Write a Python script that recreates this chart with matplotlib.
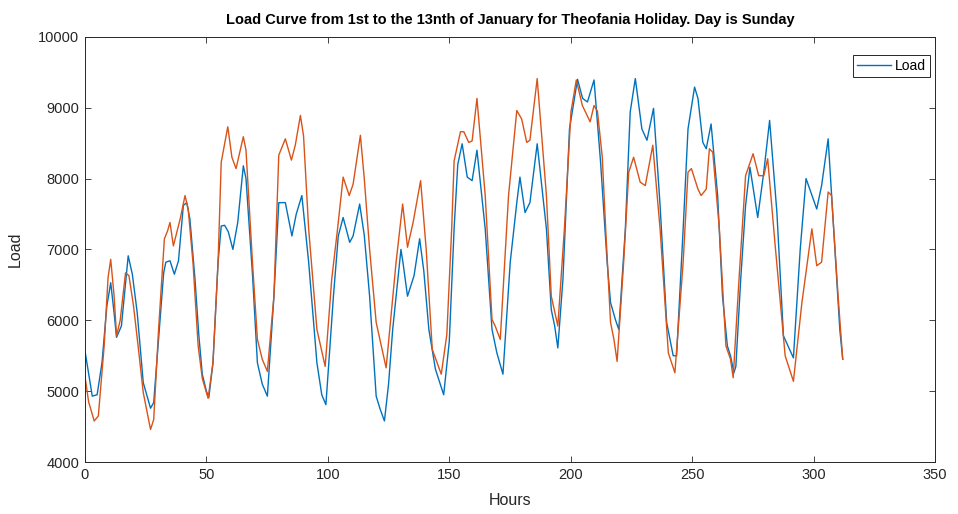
import numpy as np
import matplotlib
matplotlib.use('Agg')
import matplotlib.pyplot as plt

# values (hour, load)
blue_hours = [0, 1.5, 3, 5, 7, 9, 10.6, 12, 13, 15, 17.8, 19.5, 21.5, 24, 27, 28.3,
              30.3, 32.4, 33.3, 35, 36.8, 38.5, 40.5, 41.9, 43.2, 45.3, 46.9, 48.3, 50, 51,
              52.7, 54.8, 56.1, 57.5, 59, 60.9, 62.9, 65.2, 66.3, 69, 71, 73, 75.1, 77.8,
              79.8, 82.5, 85.2, 87, 89.3, 92.1, 95.5, 97.5, 99.2, 102.3, 104.3, 106.3, 109,
              110.4, 113.1, 115, 117.2, 119.9, 121.5, 123.3, 125, 126.7, 130.1, 131, 132.8,
              135.5, 137.8, 139.5, 141.6, 144.3, 147.7, 150, 152, 153.5, 155.3, 157.4,
              159.4, 161.4, 164.8, 167.6, 169.6, 172.1, 175.1, 177.8, 179.1, 181.2, 183.2,
              186.2, 190, 192, 193.4, 194.7, 196.8, 199.5, 202.8, 204.9, 206.9, 209.6,
              212.3, 215, 216.4, 218.4, 219.8, 222.5, 224.5, 226.6, 229.3, 231.4, 234.1,
              236.8, 239.5, 242.2, 243.6, 246.3, 248.3, 251, 252.4, 254.4, 255.8, 257.8,
              260.5, 262.5, 264.5, 265.8, 267.2, 268, 270, 272, 273.8, 277, 279.5, 281.9,
              284.9, 287.6, 291.7, 294.5, 296.9, 301.3, 303.3, 306, 308.7, 310.8, 312]
blue_load = [5570, 5250, 4930, 4950, 5400, 6200, 6530, 6100, 5760, 5920, 6910, 6650, 6110,
             5120, 4760, 4840, 5730, 6670, 6820, 6840, 6650, 6840, 7620, 7660, 7430, 6580,
             5780, 5240, 5000, 4910, 5400, 6820, 7330, 7340, 7250, 7000, 7380, 8180, 8000,
             6630, 5400, 5100, 4930, 6340, 7660, 7660, 7190, 7500, 7760, 6820, 5400, 4950,
             4810, 6340, 7190, 7450, 7100, 7190, 7640, 7200, 6340, 4930, 4750, 4580, 5100,
             5870, 7000, 6800, 6340, 6630, 7150, 6700, 5870, 5310, 4950, 5700, 7300, 8200,
             8490, 8020, 7970, 8400, 7290, 5870, 5540, 5240, 6820, 7660, 8020, 7520, 7660,
             8490, 7290, 6150, 5920, 5610, 6580, 8700, 9400, 9130, 9080, 9390, 8230, 6820,
             6250, 6010, 5870, 7290, 8940, 9410, 8700, 8540, 8990, 7620, 5970, 5500, 5500,
             7290, 8700, 9290, 9130, 8510, 8420, 8770, 7760, 6340, 5640, 5500, 5260, 5350,
             6580, 7620, 8160, 7450, 8090, 8820, 7520, 5780, 5470, 7000, 8000, 7570, 7900,
             8560, 7050, 5870, 5450]

orange_hours = [0, 1.5, 3.8, 5.5, 7.9, 9.5, 10.6, 12, 13, 14.5, 16.7, 18.1, 20, 22, 24, 27,
                28.3, 30.3, 32.7, 34, 35, 36.4, 37.8, 39.2, 41.2, 42.5, 44.5, 46.6, 48.3,
                50.7, 52.7, 54.8, 56.1, 58.8, 60.5, 62.2, 65.2, 66.3, 69, 71, 73, 75.1, 77.8,
                79.8, 82.5, 85, 86.6, 88.7, 90, 92.1, 95.5, 98.9, 101.6, 104, 106.3, 108.8,
                110.4, 113.4, 115, 117.2, 119.9, 124, 128.1, 130.8, 132.8, 135.1, 138.2,
                140.5, 143, 146.7, 149, 151, 152, 154.6, 156, 158, 159.4, 161.4, 164.8,
                167.6, 168.9, 171, 174.4, 177.8, 179.8, 181.9, 183.2, 186.2, 190, 192,
                194.7, 197.4, 200.1, 202.3, 204.8, 208, 209.6, 211, 213, 214.4, 216.4,
                217.8, 219.1, 221.8, 223.9, 225.9, 228.6, 230.7, 233.8, 236.8, 240.2, 242.9,
                246.3, 248.3, 249.7, 252.4, 253.7, 255.8, 257.1, 258.5, 261.2, 263.9, 265.8,
                266.9, 269.3, 272, 275.1, 277.4, 279.5, 281.1, 284.2, 288.3, 291.7, 295.2,
                299.3, 301.3, 303.3, 306, 307.4, 310.1, 312]
orange_load = [5210, 4850, 4580, 4650, 5640, 6600, 6860, 6340, 5780, 6000, 6670, 6630, 6200,
               5600, 4980, 4460, 4600, 5870, 7150, 7260, 7380, 7050, 7240, 7430, 7760, 7570,
               6800, 5640, 5180, 4900, 5400, 6820, 8230, 8730, 8300, 8140, 8590, 8400, 6800,
               5730, 5450, 5280, 6340, 8330, 8560, 8260, 8470, 8890, 8600, 7290, 5870, 5350,
               6580, 7290, 8020, 7760, 7920, 8610, 8000, 7000, 5970, 5330, 6820, 7640, 7030,
               7380, 7970, 7000, 5590, 5240, 5800, 7300, 8250, 8660, 8660, 8510, 8530, 9130,
               7760, 6010, 5920, 5730, 7760, 8960, 8840, 8510, 8540, 9410, 7760, 6340, 5920,
               7290, 8940, 9390, 9030, 8800, 9030, 8950, 8300, 7290, 5970, 5730, 5420, 6820,
               8090, 8300, 7950, 7900, 8470, 7290, 5540, 5260, 6820, 8090, 8140, 7850, 7760,
               7850, 8420, 8370, 7290, 5640, 5450, 5190, 6580, 8040, 8350, 8040, 8040, 8280,
               7050, 5500, 5140, 6250, 7290, 6770, 6820, 7810, 7760, 6340, 5450]

x_ticks = np.arange(0, 351, 50)
y_ticks = np.arange(4000, 10001, 1000)

plt.rcParams['font.family'] = ['Liberation Sans', 'DejaVu Sans']
txt = '#262626'

fig = plt.figure(figsize=(9.58, 5.14), dpi=100)
ax = fig.add_axes([0.0887, 0.101, 0.8873, 0.8275])

ax.plot(blue_hours, blue_load, color='#0072BD', lw=1.0, label='Load')
ax.plot(orange_hours, orange_load, color='#D95319', lw=1.0)

ax.set_xlim(0, 350)
ax.set_ylim(4000, 10000)
ax.set_xticks(x_ticks)
ax.set_yticks(y_ticks)
ax.tick_params(direction='in', top=True, right=True, length=4, width=0.6,
               colors=txt, labelsize=10.5, pad=4)
for s in ax.spines.values():
    s.set_color(txt)
    s.set_linewidth(0.7)

ax.set_title('Load Curve from 1st to the 13nth of January for Theofania Holiday. Day is Sunday',
             fontsize=10.5, fontweight='bold', color='black', pad=9)
ax.set_xlabel('Hours', fontsize=11.5, color=txt, labelpad=8)
ax.set_ylabel('Load', fontsize=11.5, color=txt, labelpad=11)

leg = ax.legend(loc='upper right', bbox_to_anchor=(0.994, 0.957), borderaxespad=0,
                fontsize=10, frameon=True, fancybox=False, framealpha=1,
                edgecolor=txt, handlelength=2.4, handletextpad=0.3, borderpad=0.3)
leg.get_frame().set_linewidth(0.7)

fig.savefig('out.png', dpi=100)
